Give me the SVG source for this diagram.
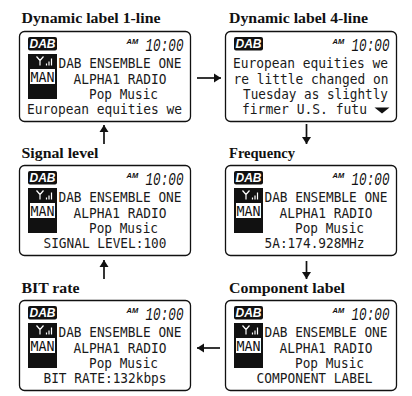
<svg xmlns="http://www.w3.org/2000/svg" width="412" height="396" viewBox="0 0 412 396">
<style>
.t{font:bold 15px "Liberation Serif",serif;fill:#111}
.p{fill:#fff;stroke:#111;stroke-width:1.3}
.l{font:14.500px "DejaVu Sans Mono",monospace;fill:#1a1a1a}
.m{font:13.500px "DejaVu Sans Mono",monospace;fill:#111}
.d{font:italic bold 12px "Liberation Sans",sans-serif;fill:#fff}
.a{font:italic bold 7.500px "Liberation Sans",sans-serif;fill:#111}
.c{font:italic 18px "Liberation Mono",monospace;fill:#111}
.k{fill:#111}
.w{fill:#fff}
.s{stroke:#fff;stroke-width:1.200;fill:none}
.n{stroke:#111;stroke-width:1.700;fill:none;marker-end:url(#h)}
</style>
<defs>
<marker id="h" markerUnits="userSpaceOnUse" markerWidth="10" markerHeight="12" refX="8" refY="6" orient="auto"><path d="M1 1.500L8 6L1 10.500Z" fill="#111"/></marker>
<g id="frame"><rect class="p" width="171" height="90" rx="5"/><rect class="k" x="8.500" y="5.500" width="29" height="13.500" rx="2"/></g>
<g id="side"><rect class="k" x="8.500" y="22.500" width="29" height="45"/><rect class="w" x="10.500" y="37.500" width="25" height="15"/><path class="s" d="M17 25l3.500 4l3.500-4M20.500 29v5M27 34v-2M29.500 34v-4M32 34v-7"/></g>
</defs>
<g id="connectors">
<path class="n" d="M197 78H221"/>
<path class="n" d="M306.500 124V144"/>
<path class="n" d="M306.500 261V279"/>
<path class="n" d="M220 348H197"/>
<path class="n" d="M104 279V260"/>
<path class="n" d="M104 144V125"/>
</g>
<g id="node-dynamic-1">
<text class="t" x="21.500" y="23" textLength="139" lengthAdjust="spacingAndGlyphs">Dynamic label 1-line</text>
<g transform="translate(19.500 31.500)"><use href="#frame"/><use href="#side"/>
<text class="d" x="10" y="16.500" textLength="26" lengthAdjust="spacingAndGlyphs">DAB</text><text class="a" x="107" y="12">AM</text><text class="c" x="126" y="19" textLength="38" lengthAdjust="spacingAndGlyphs">10:00</text>
<text class="m" x="11" y="50" textLength="24" lengthAdjust="spacingAndGlyphs">MAN</text>
<text class="l" x="39" y="36" textLength="123" lengthAdjust="spacingAndGlyphs">DAB ENSEMBLE ONE</text>
<text class="l" x="54" y="52" textLength="93" lengthAdjust="spacingAndGlyphs">ALPHA1 RADIO</text>
<text class="l" x="69.500" y="67" textLength="69" lengthAdjust="spacingAndGlyphs">Pop Music</text>
<text class="l" x="7.500" y="82" textLength="155" lengthAdjust="spacingAndGlyphs">European equities we</text></g>
</g>
<g id="node-dynamic-4">
<text class="t" x="229" y="23" textLength="139" lengthAdjust="spacingAndGlyphs">Dynamic label 4-line</text>
<g transform="translate(225.500 31.500)"><use href="#frame"/>
<text class="d" x="10" y="16.500" textLength="26" lengthAdjust="spacingAndGlyphs">DAB</text><text class="a" x="107" y="12">AM</text><text class="c" x="126" y="19" textLength="38" lengthAdjust="spacingAndGlyphs">10:00</text>
<text class="l" x="7.500" y="36" textLength="155" lengthAdjust="spacingAndGlyphs">European equities we</text>
<text class="l" x="8" y="52" textLength="155" lengthAdjust="spacingAndGlyphs">re little changed on</text>
<text class="l" x="17.500" y="67" textLength="145" lengthAdjust="spacingAndGlyphs">Tuesday as slightly</text>
<text class="l" x="16.500" y="82" textLength="125" lengthAdjust="spacingAndGlyphs">firmer U.S. futu</text>
<path class="k" d="M149 76H164L156.500 82Z"/></g>
</g>
<g id="node-signal">
<text class="t" x="21.500" y="158" textLength="77" lengthAdjust="spacingAndGlyphs">Signal level</text>
<g transform="translate(19.500 165.500)"><use href="#frame"/><use href="#side"/>
<text class="d" x="10" y="16.500" textLength="26" lengthAdjust="spacingAndGlyphs">DAB</text><text class="a" x="107" y="12">AM</text><text class="c" x="126" y="19" textLength="38" lengthAdjust="spacingAndGlyphs">10:00</text>
<text class="m" x="11" y="50" textLength="24" lengthAdjust="spacingAndGlyphs">MAN</text>
<text class="l" x="39" y="36" textLength="123" lengthAdjust="spacingAndGlyphs">DAB ENSEMBLE ONE</text>
<text class="l" x="54" y="52" textLength="93" lengthAdjust="spacingAndGlyphs">ALPHA1 RADIO</text>
<text class="l" x="69.500" y="67" textLength="69" lengthAdjust="spacingAndGlyphs">Pop Music</text>
<text class="l" x="24" y="82" textLength="123" lengthAdjust="spacingAndGlyphs">SIGNAL LEVEL:100</text></g>
</g>
<g id="node-frequency">
<text class="t" x="229" y="158" textLength="66" lengthAdjust="spacingAndGlyphs">Frequency</text>
<g transform="translate(225.500 165.500)"><use href="#frame"/><use href="#side"/>
<text class="d" x="10" y="16.500" textLength="26" lengthAdjust="spacingAndGlyphs">DAB</text><text class="a" x="107" y="12">AM</text><text class="c" x="126" y="19" textLength="38" lengthAdjust="spacingAndGlyphs">10:00</text>
<text class="m" x="11" y="50" textLength="24" lengthAdjust="spacingAndGlyphs">MAN</text>
<text class="l" x="39" y="36" textLength="123" lengthAdjust="spacingAndGlyphs">DAB ENSEMBLE ONE</text>
<text class="l" x="54" y="52" textLength="93" lengthAdjust="spacingAndGlyphs">ALPHA1 RADIO</text>
<text class="l" x="69.500" y="67" textLength="69" lengthAdjust="spacingAndGlyphs">Pop Music</text>
<text class="l" x="39" y="82" textLength="100" lengthAdjust="spacingAndGlyphs">5A:174.928MHz</text></g>
</g>
<g id="node-bit-rate">
<text class="t" x="21.500" y="293" textLength="58" lengthAdjust="spacingAndGlyphs">BIT rate</text>
<g transform="translate(19.500 300.500)"><use href="#frame"/><use href="#side"/>
<text class="d" x="10" y="16.500" textLength="26" lengthAdjust="spacingAndGlyphs">DAB</text><text class="a" x="107" y="12">AM</text><text class="c" x="126" y="19" textLength="38" lengthAdjust="spacingAndGlyphs">10:00</text>
<text class="m" x="11" y="50" textLength="24" lengthAdjust="spacingAndGlyphs">MAN</text>
<text class="l" x="39" y="36" textLength="123" lengthAdjust="spacingAndGlyphs">DAB ENSEMBLE ONE</text>
<text class="l" x="54" y="52" textLength="93" lengthAdjust="spacingAndGlyphs">ALPHA1 RADIO</text>
<text class="l" x="69.500" y="67" textLength="69" lengthAdjust="spacingAndGlyphs">Pop Music</text>
<text class="l" x="24" y="82" textLength="123" lengthAdjust="spacingAndGlyphs">BIT RATE:132kbps</text></g>
</g>
<g id="node-component">
<text class="t" x="229" y="293" textLength="116" lengthAdjust="spacingAndGlyphs">Component label</text>
<g transform="translate(225.500 300.500)"><use href="#frame"/><use href="#side"/>
<text class="d" x="10" y="16.500" textLength="26" lengthAdjust="spacingAndGlyphs">DAB</text><text class="a" x="107" y="12">AM</text><text class="c" x="126" y="19" textLength="38" lengthAdjust="spacingAndGlyphs">10:00</text>
<text class="m" x="11" y="50" textLength="24" lengthAdjust="spacingAndGlyphs">MAN</text>
<text class="l" x="39" y="36" textLength="123" lengthAdjust="spacingAndGlyphs">DAB ENSEMBLE ONE</text>
<text class="l" x="54" y="52" textLength="93" lengthAdjust="spacingAndGlyphs">ALPHA1 RADIO</text>
<text class="l" x="69.500" y="67" textLength="69" lengthAdjust="spacingAndGlyphs">Pop Music</text>
<text class="l" x="31" y="82" textLength="116" lengthAdjust="spacingAndGlyphs">COMPONENT LABEL</text></g>
</g>
</svg>
